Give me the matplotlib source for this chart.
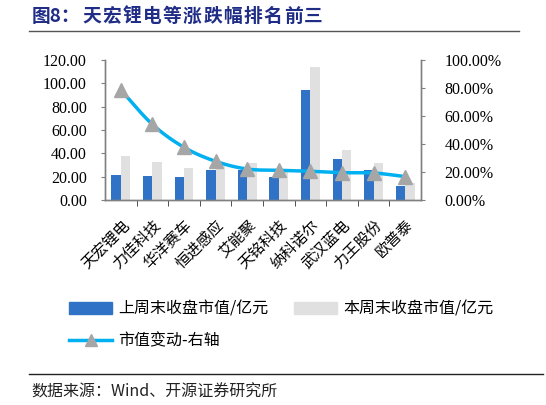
import numpy as np
import matplotlib
matplotlib.use("Agg")
import matplotlib.pyplot as plt
from matplotlib.lines import Line2D
from matplotlib.patches import Patch

plt.rcParams['font.family'] = ['Noto Sans CJK SC', 'DejaVu Sans']

title_head = "图8："
title_body = "天宏锂电等涨跌幅排名前三"
categories = ["天宏锂电", "力佳科技", "华洋赛车", "恒进感应", "艾能聚",
              "天铭科技", "纳科诺尔", "武汉蓝电", "力王股份", "欧普泰"]
last_week = [21.1, 20.6, 19.7, 25.4, 25.7, 19.7, 94.0, 35.4, 26.0, 12.3]
this_week = [38.0, 32.3, 27.7, 32.4, 32.0, 23.9, 114.0, 42.9, 31.7, 14.6]
change_pct = [78.6, 54.0, 37.6, 27.6, 22.1, 21.2, 20.5, 19.5, 19.3, 16.7]
left_ticks = [0, 20, 40, 60, 80, 100, 120]
right_ticks = [0, 20, 40, 60, 80, 100]

BLUE = "#3073C6"
GREY = "#E0E0E0"
LINE = "#00B0F0"
MARK = "#A6A6A6"
SPINE = "#808080"
serif = "Liberation Serif"

W, H = 546, 405
fig = plt.figure(figsize=(5.46, 4.05), dpi=100)
ax = fig.add_axes([0.1923, 0.5062, 0.5788, 0.3457])
x = np.arange(len(categories))
w = 0.3
ax.bar(x - w / 2, last_week, width=w, color=BLUE, zorder=2)
ax.bar(x + w / 2, this_week, width=w, color=GREY, zorder=2)
ax.set_xlim(-0.5, len(categories) - 0.5)
ax.set_ylim(0, 120)
ax.set_yticks(left_ticks)
ax.set_yticklabels([f"{v:.2f}" for v in left_ticks], fontfamily=serif, fontsize=11.5)

ax2 = ax.twinx()
ax2.set_ylim(0, 100)
ax2.set_yticks(right_ticks)
ax2.set_yticklabels([f"{v:.2f}%" for v in right_ticks], fontfamily=serif, fontsize=11.5)


def catmull(xs, ys, n=20):
    xs = np.asarray(xs, float); ys = np.asarray(ys, float)
    px = np.concatenate([[2 * xs[0] - xs[1]], xs, [2 * xs[-1] - xs[-2]]])
    py = np.concatenate([[2 * ys[0] - ys[1]], ys, [2 * ys[-1] - ys[-2]]])
    ox, oy = [], []
    t = np.linspace(0, 1, n, endpoint=False)
    for i in range(1, len(px) - 2):
        for arr, out in ((px, ox), (py, oy)):
            p0, p1, p2, p3 = arr[i - 1], arr[i], arr[i + 1], arr[i + 2]
            out.extend(0.5 * (2 * p1 + (-p0 + p2) * t + (2 * p0 - 5 * p1 + 4 * p2 - p3) * t ** 2
                              + (-p0 + 3 * p1 - 3 * p2 + p3) * t ** 3))
    ox.append(xs[-1]); oy.append(ys[-1])
    return np.array(ox), np.array(oy)


sx, sy = catmull(x, change_pct)
ax2.plot(sx, sy, color=LINE, lw=2.5, zorder=3)
ax2.plot(x, change_pct, ls='none', marker='^', ms=10, color=MARK, zorder=4)

for a in (ax, ax2):
    a.spines['top'].set_visible(False)
    for s in ('left', 'right', 'bottom'):
        a.spines[s].set_color(SPINE)
        a.spines[s].set_linewidth(1.0)
ax.tick_params(axis='y', length=3, pad=10, color=SPINE)
ax2.tick_params(axis='y', length=3, pad=14, color=SPINE)

ax.set_xticks(x)
ax.set_xticklabels(categories, rotation=45, ha='right', rotation_mode='anchor', fontsize=11)
ax.tick_params(axis='x', which='major', length=0, pad=12)
ax.set_xticks(np.arange(0.5, len(categories) - 1, 1), minor=True)
ax.tick_params(axis='x', which='minor', length=4, color='#333333', direction='out')

# legend
handles = [Patch(color=BLUE), Patch(color=GREY),
           Line2D([0], [0], color=LINE, lw=2.5, marker='^', ms=9, markerfacecolor=MARK,
                  markeredgecolor=MARK)]
labels = ["上周末收盘市值/亿元", "本周末收盘市值/亿元", "市值变动-右轴"]
fig.legend(handles[:2], labels[:2], ncol=2, loc='center left', bbox_to_anchor=(0.1, 0.237),
           frameon=False, handlelength=2.7, handleheight=0.8,
           columnspacing=1.6, handletextpad=0.4, prop={'size': 11.5})
fig.legend(handles[2:], labels[2:], loc='center left', bbox_to_anchor=(0.1, 0.158),
           frameon=False, handlelength=2.7, handletextpad=0.4, prop={'size': 11.5})

# title (letter-spaced) and source
TITLE_C = "#1F2D86"
fig.text(32 / W, 1 - 16 / H, title_head, fontsize=13.5, fontweight='bold',
         color=TITLE_C, va='center', ha='left')
pitch = 20.2
for i, ch in enumerate(title_body):
    fig.text((82 + pitch * i) / W, 1 - 16 / H, ch, fontsize=13.5, fontweight='bold',
             color=TITLE_C, va='center', ha='left')
fig.add_artist(Line2D([0.053, 0.95], [0.923, 0.923], color='#555555', lw=1.0))
fig.add_artist(Line2D([0.053, 0.995], [0.077, 0.077], color='#222222', lw=1.0))
fig.text(0.058, 0.033, "数据来源：Wind、开源证券研究所", fontsize=11.5, va='center', ha='left',
         color='#222222')

fig.savefig("out.png", dpi=100)
